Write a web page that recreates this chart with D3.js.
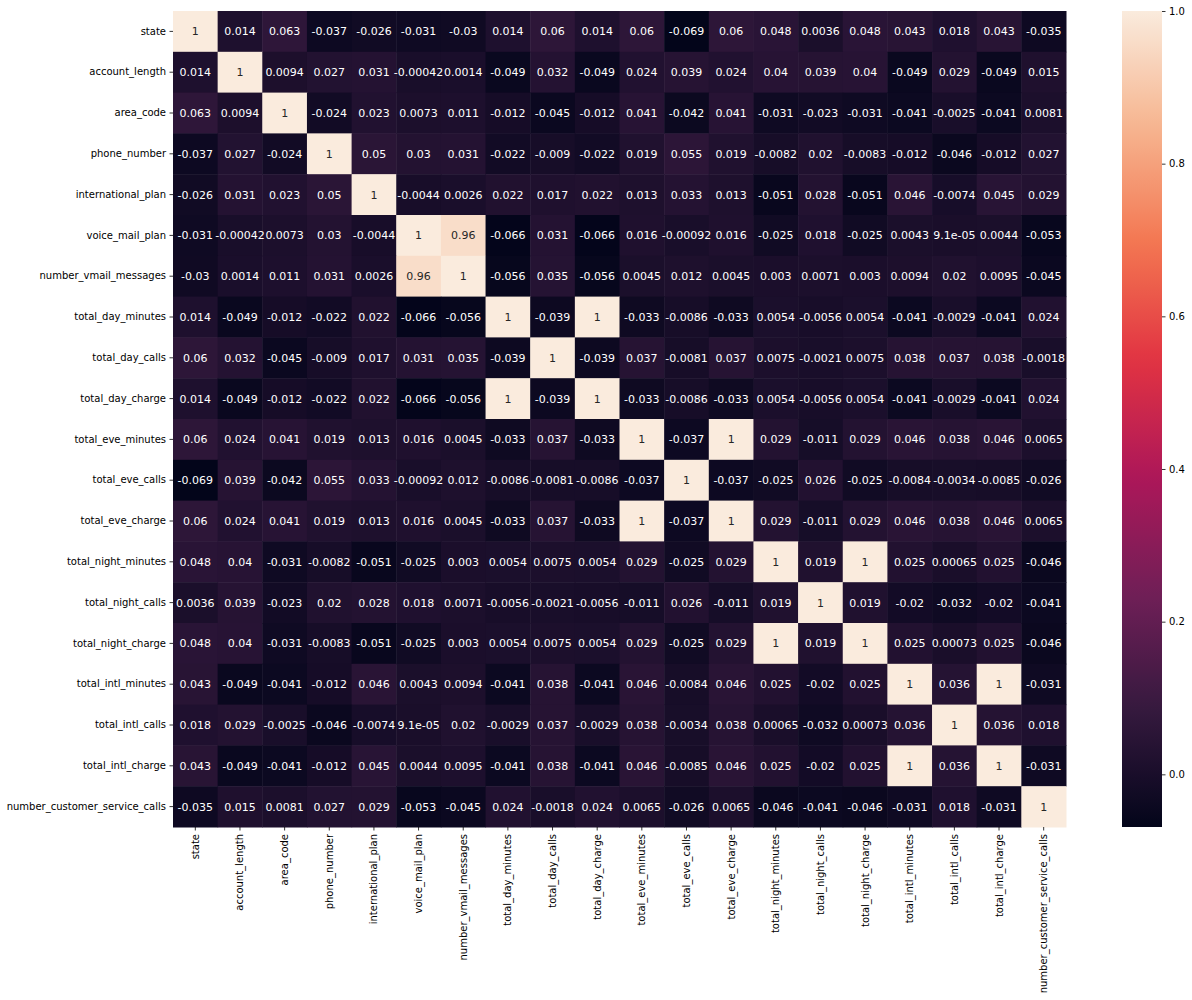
<!DOCTYPE html>
<html>
<head>
<meta charset="utf-8">
<script src="https://cdn.jsdelivr.net/npm/d3@7"></script>
<style>
  html, body { margin: 0; padding: 0; background: #fff; }
  svg { display: block; font-family: "DejaVu Sans", sans-serif; }
</style>
</head>
<body>
<svg id="chart" width="1192" height="1000"></svg>
<script>
const features = ["state","account_length","area_code","phone_number","international_plan","voice_mail_plan","number_vmail_messages","total_day_minutes","total_day_calls","total_day_charge","total_eve_minutes","total_eve_calls","total_eve_charge","total_night_minutes","total_night_calls","total_night_charge","total_intl_minutes","total_intl_calls","total_intl_charge","number_customer_service_calls"];

const rowState = [1, 0.014, 0.063, -0.037, -0.026, -0.031, -0.03, 0.014, 0.06, 0.014, 0.06, -0.069, 0.06, 0.048, 0.0036, 0.048, 0.043, 0.018, 0.043, -0.035];
const rowAccountLength = [0.014, 1, 0.0094, 0.027, 0.031, -0.00042, 0.0014, -0.049, 0.032, -0.049, 0.024, 0.039, 0.024, 0.04, 0.039, 0.04, -0.049, 0.029, -0.049, 0.015];
const rowAreaCode = [0.063, 0.0094, 1, -0.024, 0.023, 0.0073, 0.011, -0.012, -0.045, -0.012, 0.041, -0.042, 0.041, -0.031, -0.023, -0.031, -0.041, -0.0025, -0.041, 0.0081];
const rowPhoneNumber = [-0.037, 0.027, -0.024, 1, 0.05, 0.03, 0.031, -0.022, -0.009, -0.022, 0.019, 0.055, 0.019, -0.0082, 0.02, -0.0083, -0.012, -0.046, -0.012, 0.027];
const rowIntlPlan = [-0.026, 0.031, 0.023, 0.05, 1, -0.0044, 0.0026, 0.022, 0.017, 0.022, 0.013, 0.033, 0.013, -0.051, 0.028, -0.051, 0.046, -0.0074, 0.045, 0.029];
const rowVoiceMailPlan = [-0.031, -0.00042, 0.0073, 0.03, -0.0044, 1, 0.96, -0.066, 0.031, -0.066, 0.016, -0.00092, 0.016, -0.025, 0.018, -0.025, 0.0043, 9.1e-05, 0.0044, -0.053];
const rowVmailMessages = [-0.03, 0.0014, 0.011, 0.031, 0.0026, 0.96, 1, -0.056, 0.035, -0.056, 0.0045, 0.012, 0.0045, 0.003, 0.0071, 0.003, 0.0094, 0.02, 0.0095, -0.045];
const rowDayMinutes = [0.014, -0.049, -0.012, -0.022, 0.022, -0.066, -0.056, 1, -0.039, 1, -0.033, -0.0086, -0.033, 0.0054, -0.0056, 0.0054, -0.041, -0.0029, -0.041, 0.024];
const rowDayCalls = [0.06, 0.032, -0.045, -0.009, 0.017, 0.031, 0.035, -0.039, 1, -0.039, 0.037, -0.0081, 0.037, 0.0075, -0.0021, 0.0075, 0.038, 0.037, 0.038, -0.0018];
const rowDayCharge = [0.014, -0.049, -0.012, -0.022, 0.022, -0.066, -0.056, 1, -0.039, 1, -0.033, -0.0086, -0.033, 0.0054, -0.0056, 0.0054, -0.041, -0.0029, -0.041, 0.024];
const rowEveMinutes = [0.06, 0.024, 0.041, 0.019, 0.013, 0.016, 0.0045, -0.033, 0.037, -0.033, 1, -0.037, 1, 0.029, -0.011, 0.029, 0.046, 0.038, 0.046, 0.0065];
const rowEveCalls = [-0.069, 0.039, -0.042, 0.055, 0.033, -0.00092, 0.012, -0.0086, -0.0081, -0.0086, -0.037, 1, -0.037, -0.025, 0.026, -0.025, -0.0084, -0.0034, -0.0085, -0.026];
const rowEveCharge = [0.06, 0.024, 0.041, 0.019, 0.013, 0.016, 0.0045, -0.033, 0.037, -0.033, 1, -0.037, 1, 0.029, -0.011, 0.029, 0.046, 0.038, 0.046, 0.0065];
const rowNightMinutes = [0.048, 0.04, -0.031, -0.0082, -0.051, -0.025, 0.003, 0.0054, 0.0075, 0.0054, 0.029, -0.025, 0.029, 1, 0.019, 1, 0.025, 0.00065, 0.025, -0.046];
const rowNightCalls = [0.0036, 0.039, -0.023, 0.02, 0.028, 0.018, 0.0071, -0.0056, -0.0021, -0.0056, -0.011, 0.026, -0.011, 0.019, 1, 0.019, -0.02, -0.032, -0.02, -0.041];
const rowNightCharge = [0.048, 0.04, -0.031, -0.0083, -0.051, -0.025, 0.003, 0.0054, 0.0075, 0.0054, 0.029, -0.025, 0.029, 1, 0.019, 1, 0.025, 0.00073, 0.025, -0.046];
const rowIntlMinutes = [0.043, -0.049, -0.041, -0.012, 0.046, 0.0043, 0.0094, -0.041, 0.038, -0.041, 0.046, -0.0084, 0.046, 0.025, -0.02, 0.025, 1, 0.036, 1, -0.031];
const rowIntlCalls = [0.018, 0.029, -0.0025, -0.046, -0.0074, 9.1e-05, 0.02, -0.0029, 0.037, -0.0029, 0.038, -0.0034, 0.038, 0.00065, -0.032, 0.00073, 0.036, 1, 0.036, 0.018];
const rowIntlCharge = [0.043, -0.049, -0.041, -0.012, 0.045, 0.0044, 0.0095, -0.041, 0.038, -0.041, 0.046, -0.0085, 0.046, 0.025, -0.02, 0.025, 1, 0.036, 1, -0.031];
const rowServiceCalls = [-0.035, 0.015, 0.0081, 0.027, 0.029, -0.053, -0.045, 0.024, -0.0018, 0.024, 0.0065, -0.026, 0.0065, -0.046, -0.041, -0.046, -0.031, 0.018, -0.031, 1];

const matrixRows = [rowState, rowAccountLength, rowAreaCode, rowPhoneNumber, rowIntlPlan, rowVoiceMailPlan, rowVmailMessages, rowDayMinutes, rowDayCalls, rowDayCharge, rowEveMinutes, rowEveCalls, rowEveCharge, rowNightMinutes, rowNightCalls, rowNightCharge, rowIntlMinutes, rowIntlCalls, rowIntlCharge, rowServiceCalls];

const colorbarTicks = [0.0, 0.2, 0.4, 0.6, 0.8, 1.0];

// rocket colormap anchor colours
const rocketStops = [0, 1/7, 2/7, 3/7, 4/7, 5/7, 6/7, 1];
const rocketColors = ["#03051a", "#35193e", "#701f57", "#ad1759", "#e13342", "#f37651", "#f6b48f", "#faebdd"];

// ---------- drawing ----------
(function draw() {
const svg = d3.select("#chart");
const mLeft = 173, mRight = 1066, mTop = 11, mBottom = 827;
const cbLeft = 1122, cbRight = 1162;

const allVals = matrixRows.flat();
const vmin = d3.min(allVals), vmax = d3.max(allVals);

const rocket = d3.scaleLinear().domain(rocketStops).range(rocketColors).interpolate(d3.interpolateRgb).clamp(true);
const norm = d3.scaleLinear().domain([vmin, vmax]).range([0, 1]);
const color = v => rocket(norm(v));

const x = d3.scaleBand().domain(features).range([mLeft, mRight]).padding(0);
const y = d3.scaleBand().domain(features).range([mTop, mBottom]).padding(0);

const cells = [];
matrixRows.forEach((row, i) => row.forEach((v, j) => cells.push({r: features[i], c: features[j], v})));

svg.append("g").selectAll("rect").data(cells).join("rect")
  .attr("x", d => x(d.c)).attr("y", d => y(d.r))
  .attr("width", x.bandwidth() + 0.5).attr("height", y.bandwidth() + 0.5)
  .attr("fill", d => color(d.v));

const loc = d3.formatLocale({decimal: ".", thousands: ",", grouping: [3], currency: ["$", ""], minus: "-"});
const f2g = loc.format(".2~g");
function pyFmt(v) {
  if (v !== 0 && Math.abs(v) < 1e-4) {
    let s = v.toExponential(1);
    let [m, e] = s.split("e");
    m = m.replace(/\.?0+$/, "");
    const sign = e[0] === "-" ? "-" : "+";
    let digits = e.replace(/^[+-]/, "");
    if (digits.length < 2) digits = "0" + digits;
    return m + "e" + sign + digits;
  }
  return f2g(v);
}
function lum(c) {
  const rgb = d3.rgb(c);
  const ch = [rgb.r, rgb.g, rgb.b].map(u => { u /= 255; return u <= 0.03928 ? u / 12.92 : Math.pow((u + 0.055) / 1.055, 2.4); });
  return 0.2126 * ch[0] + 0.7152 * ch[1] + 0.0722 * ch[2];
}

svg.append("g").selectAll("text").data(cells).join("text")
  .attr("x", d => x(d.c) + x.bandwidth() / 2)
  .attr("y", d => y(d.r) + y.bandwidth() / 2)
  .attr("dy", "0.36em")
  .attr("text-anchor", "middle")
  .attr("font-size", 11)
  .attr("fill", d => lum(color(d.v)) > 0.408 ? "#262626" : "#ffffff")
  .text(d => pyFmt(d.v));

const yAxis = svg.append("g").attr("transform", `translate(${mLeft},0)`)
  .call(d3.axisLeft(y).tickSize(3.5).tickPadding(3.5));
yAxis.select(".domain").remove();
yAxis.selectAll("text").attr("font-size", 10).attr("fill", "#000").attr("font-family", "DejaVu Sans");
yAxis.selectAll("line").attr("stroke", "#000").attr("stroke-width", 0.8);

const xAxis = svg.append("g").attr("transform", `translate(0,${mBottom})`)
  .call(d3.axisBottom(x).tickSize(3.5).tickPadding(3.5));
xAxis.select(".domain").remove();
xAxis.selectAll("line").attr("stroke", "#000").attr("stroke-width", 0.8);
xAxis.selectAll("text")
  .attr("font-size", 10).attr("fill", "#000").attr("font-family", "DejaVu Sans")
  .attr("transform", "rotate(-90)")
  .attr("x", -7).attr("y", 0).attr("dy", "0.35em")
  .attr("text-anchor", "end");

const cbScale = d3.scaleLinear().domain([vmin, vmax]).range([mBottom, mTop]);
const defs = svg.append("defs");
const grad = defs.append("linearGradient").attr("id", "cbgrad")
  .attr("x1", 0).attr("y1", 1).attr("x2", 0).attr("y2", 0);
d3.range(0, 1.0001, 0.02).forEach(t => {
  grad.append("stop").attr("offset", t).attr("stop-color", rocket(t));
});
svg.append("rect").attr("x", cbLeft).attr("y", mTop)
  .attr("width", cbRight - cbLeft).attr("height", mBottom - mTop)
  .attr("fill", "url(#cbgrad)");

const cbAxis = svg.append("g").attr("transform", `translate(${cbRight},0)`)
  .call(d3.axisRight(cbScale).tickValues(colorbarTicks).tickFormat(loc.format(".1f")).tickSize(3.5).tickPadding(3.5));
cbAxis.select(".domain").remove();
cbAxis.selectAll("line").attr("stroke", "#000").attr("stroke-width", 0.8);
cbAxis.selectAll("text").attr("font-size", 10).attr("fill", "#000").attr("font-family", "DejaVu Sans");
})();
</script>
</body>
</html>
